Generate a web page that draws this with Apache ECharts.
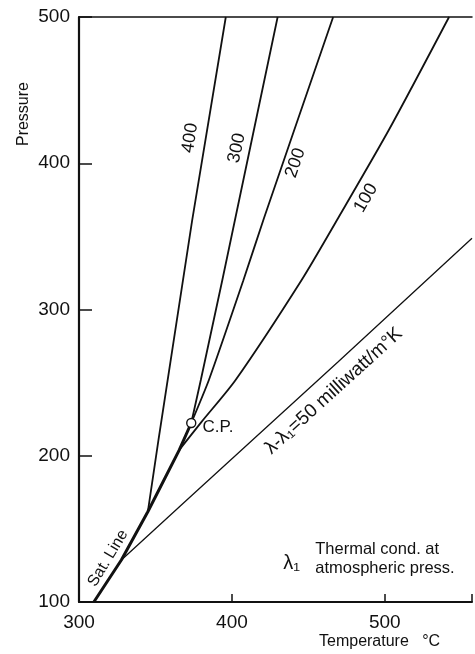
<!DOCTYPE html>
<html>
<head>
<meta charset="utf-8">
<script src="https://cdn.jsdelivr.net/npm/echarts@6/dist/echarts.min.js"></script>
<style>
  html, body { margin: 0; padding: 0; background: #fff; }
  #chart { width: 475px; height: 654px; }
</style>
</head>
<body>
<div id="chart"></div>
<script>
// Thermal conductivity excess of steam: lines of constant (λ - λ1) in the
// temperature / pressure plane, starting on the saturation line.
const xTicks = [300, 400, 500];
const yTicks = [100, 200, 300, 400, 500];

// saturation line, ending at the critical point
const satLine = [[309.7, 100], [327.7, 128.7], [345, 161.7], [365.6, 204], [373.4, 222.4]];
const critPoint = [[373.4, 222.4]];

// lines of constant λ - λ1 (milliwatt/m°K)
const iso400 = [[345, 161.7], [352, 211], [374, 361], [396, 500]];
const iso300 = [[373.4, 222.4], [379.7, 252], [393.7, 320], [429.9, 500]];
const iso200 = [[373.4, 222.4], [385, 252], [407.5, 320], [421, 362.6], [466.2, 500]];
const iso100 = [[365.6, 204], [380, 223], [402.4, 251.8], [445.6, 320.2], [469.5, 362.6], [502.6, 422.7], [542, 500]];
const iso50  = [[327.7, 128.7], [370.5, 169.7], [469.5, 264.3], [557, 348.7]];

const lineLabels = ['400', '300', '200', '100'];

const INK = '#111';
const NUM_FONT = '"Liberation Sans", Arial, sans-serif';
const NOTE_FONT = '"Liberation Sans Narrow", "Liberation Sans", Arial, sans-serif';

function curve(name, data, width, smooth) {
  return {
    name: name,
    type: 'line',
    data: data,
    showSymbol: false,
    symbol: 'none',
    smooth: smooth || false,
    lineStyle: { color: INK, width: width, opacity: 1 },
    silent: true,
    z: 3
  };
}

// text annotations anchored in data space
function note(text, at, rotate, fontSize, align) {
  return {
    value: at,
    label: {
      show: true,
      formatter: text,
      rotate: rotate,
      fontSize: fontSize,
      align: align || 'center',
      color: INK,
      opacity: 1
    }
  };
}

const notes = [
  note(lineLabels[0], [372.7, 417.3], 81, 18),
  note(lineLabels[1], [403.2, 410.4], 78, 18),
  note(lineLabels[2], [441.6, 400.2], 71, 18),
  note(lineLabels[3], [487.7, 376.2], 60, 18),
  note('Sat. Line', [319, 129.9], 59, 16),
  note('λ-λ₁=50 milliwatt/m°K', [466.6, 244.3], 42.3, 19),
  note('C.P.', [390.9, 219.3], 0, 17),
  note('λ₁', [433.5, 126.3], 0, 20, 'left'),
  note('Thermal cond. at', [454.5, 135.6], 0, 16.5, 'left'),
  note('atmospheric press.', [454.5, 122.6], 0, 16.5, 'left')
];

const chart = echarts.init(document.getElementById('chart'), null, { renderer: 'canvas' });

chart.setOption({
  backgroundColor: '#fff',
  animation: false,
  grid: { left: 79, right: 0, top: 17, bottom: 52, containLabel: false },
  xAxis: [
    {
      type: 'value',
      min: xTicks[0],
      max: 557,
      interval: 100,
      position: 'bottom',
      splitLine: { show: false },
      axisLine: { show: true, lineStyle: { color: INK, width: 2 } },
      axisTick: { show: true, inside: true, length: 8, lineStyle: { color: INK, width: 1.5 } },
      axisLabel: {
        color: INK, fontSize: 19, fontFamily: NUM_FONT, margin: 11,
        formatter: v => (xTicks.indexOf(v) >= 0 ? String(v) : '')
      }
    },
    {
      type: 'value',
      min: xTicks[0],
      max: 557,
      position: 'top',
      splitLine: { show: false },
      axisLine: { show: true, lineStyle: { color: INK, width: 1.5 } },
      axisTick: { show: false },
      axisLabel: { show: false }
    }
  ],
  yAxis: {
    type: 'value',
    min: yTicks[0],
    max: yTicks[yTicks.length - 1],
    interval: 100,
    splitLine: { show: false },
    axisLine: { show: true, lineStyle: { color: INK, width: 2.2 } },
    axisTick: { show: true, inside: true, length: 13, lineStyle: { color: INK, width: 1.5 } },
    axisLabel: { color: INK, fontSize: 19, fontFamily: NUM_FONT, margin: 9 }
  },
  graphic: [
    {
      type: 'text',
      left: 16,
      top: 82,
      rotation: Math.PI / 2,
      style: {
        text: 'Pressure',
        fill: INK,
        font: '16px ' + NOTE_FONT
      }
    },
    {
      type: 'text',
      left: 319,
      top: 634,
      style: {
        text: 'Temperature   °C',
        fill: INK,
        font: '16px ' + NOTE_FONT
      }
    }
  ],
  series: [
    curve('sat', satLine, 3),
    curve('400', iso400, 1.8),
    curve('300', iso300, 1.8),
    curve('200', iso200, 1.8, 0.2),
    curve('100', iso100, 1.8, 0.25),
    curve('50', iso50, 1.3),
    {
      name: 'cp',
      type: 'scatter',
      data: critPoint,
      symbol: 'circle',
      symbolSize: 9,
      itemStyle: { color: '#fff', borderColor: INK, borderWidth: 1.4, opacity: 1 },
      silent: true,
      z: 5
    },
    {
      name: 'notes',
      type: 'scatter',
      data: notes,
      symbolSize: 0,
      silent: true,
      itemStyle: { opacity: 1 },
      label: {
        show: true,
        position: 'inside',
        color: INK,
        fontFamily: NOTE_FONT,
        verticalAlign: 'middle'
      },
      z: 6
    }
  ]
});
</script>
</body>
</html>
